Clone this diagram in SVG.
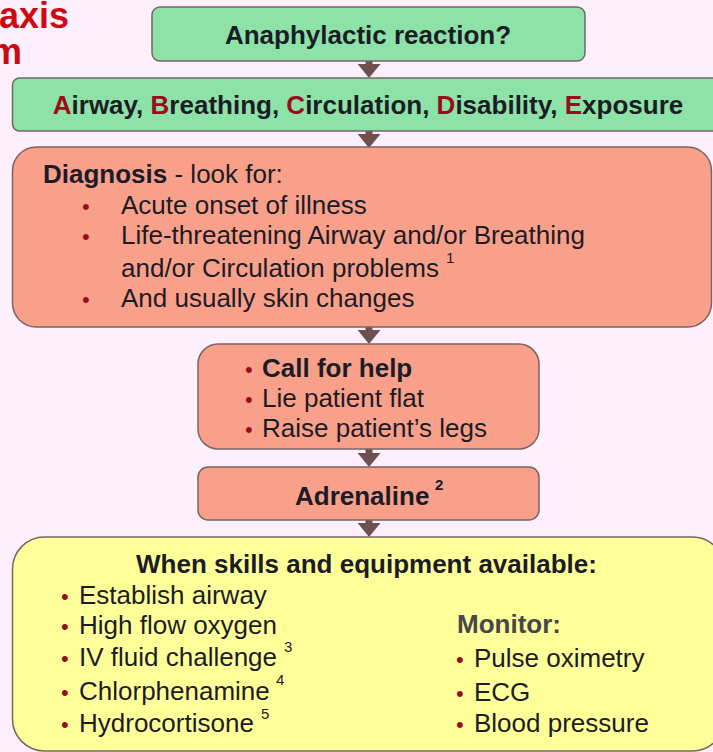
<svg xmlns="http://www.w3.org/2000/svg" width="713" height="752" viewBox="0 0 713 752">
  <style>
    text { font-family: "Liberation Sans", Arial, sans-serif; fill: #1c1c26; }
    .b { font-weight: bold; }
    .t { font-size: 26px; }
    .sup { font-size: 15px; }
    .title { font-size: 36px; font-weight: bold; fill: #cc0a14; }
    .dot { font-size: 22px; fill: #9a0c1c; }
    .red { fill: #9a0c1c; }
    .mon { fill: #46464c; }
    .box { stroke: #7a6464; stroke-width: 1.5; }
    .green { fill: #8de2a7; }
    .salmon { fill: #f9a08a; }
    .yellow { fill: #ffff99; }
    .flow { stroke: #6e5050; stroke-width: 7; fill: none; marker-end: url(#head); }
  </style>
  <defs>
    <marker id="head" markerUnits="userSpaceOnUse" viewBox="0 0 14 23" markerWidth="14" markerHeight="23" refX="0" refY="11.5" orient="auto">
      <path d="M0,0 L14,11.5 L0,23 Z" fill="#6e5050"/>
    </marker>
  </defs>

  <!-- page background -->
  <rect x="0" y="0" width="713" height="752" fill="#fdeffc"/>

  <!-- heading, running off the left edge -->
  <g id="heading">
    <text class="title" x="-1" y="28">axis</text>
    <text class="title" x="-10" y="64">m</text>
  </g>

  <!-- arrows between the steps -->
  <g id="connectors">
    <line class="flow" x1="369" y1="61" x2="369" y2="64"/>
    <line class="flow" x1="369" y1="131" x2="369" y2="134"/>
    <line class="flow" x1="369" y1="327" x2="369" y2="330"/>
    <line class="flow" x1="369" y1="449" x2="369" y2="453"/>
    <line class="flow" x1="369" y1="520" x2="369" y2="523"/>
  </g>

  <g id="reaction">
    <rect class="box green" x="152" y="7" width="433" height="54" rx="8"/>
    <text class="t b" x="368" y="44" text-anchor="middle">Anaphylactic reaction?</text>
  </g>

  <g id="abcde">
    <rect class="box green" x="12.5" y="78" width="712" height="53" rx="7"/>
    <text class="t b" x="368" y="114" text-anchor="middle"><tspan class="red">A</tspan>irway, <tspan class="red">B</tspan>reathing, <tspan class="red">C</tspan>irculation, <tspan class="red">D</tspan>isability, <tspan class="red">E</tspan>xposure</text>
  </g>

  <g id="diagnosis">
    <rect class="box salmon" x="12.5" y="147" width="699" height="180" rx="24"/>
    <text class="t" x="43" y="183"><tspan class="b">Diagnosis</tspan> - look for:</text>
    <text class="dot" x="82" y="214">•</text>
    <text class="t" x="121" y="214">Acute onset of illness</text>
    <text class="dot" x="82" y="244">•</text>
    <text class="t" x="121" y="244">Life-threatening Airway and/or Breathing</text>
    <text class="t" x="121" y="277">and/or Circulation problems</text>
    <text class="sup" x="446" y="263">1</text>
    <text class="dot" x="82" y="307">•</text>
    <text class="t" x="121" y="307">And usually skin changes</text>
  </g>

  <g id="first-actions">
    <rect class="box salmon" x="198" y="344" width="341" height="105" rx="20"/>
    <text class="dot" x="245" y="377">•</text>
    <text class="t b" x="262" y="377">Call for help</text>
    <text class="dot" x="245" y="407">•</text>
    <text class="t" x="262" y="407">Lie patient flat</text>
    <text class="dot" x="245" y="437">•</text>
    <text class="t" x="262" y="437">Raise patient’s legs</text>
  </g>

  <g id="adrenaline">
    <rect class="box salmon" x="198" y="467" width="341" height="53" rx="10"/>
    <text class="t b" x="295" y="505">Adrenaline</text>
    <text class="sup b" x="435" y="490">2</text>
  </g>

  <g id="further-care">
    <rect class="box yellow" x="12.5" y="537" width="712" height="214" rx="32"/>
    <text class="t b" x="136" y="573">When skills and equipment available:</text>
    <text class="dot" x="61" y="604">•</text>
    <text class="t" x="79" y="604">Establish airway</text>
    <text class="dot" x="61" y="634">•</text>
    <text class="t" x="79" y="634">High flow oxygen</text>
    <text class="dot" x="61" y="666">•</text>
    <text class="t" x="79" y="666">IV fluid challenge</text>
    <text class="sup" x="284" y="652">3</text>
    <text class="dot" x="61" y="700">•</text>
    <text class="t" x="79" y="700">Chlorphenamine</text>
    <text class="sup" x="276" y="685">4</text>
    <text class="dot" x="61" y="732">•</text>
    <text class="t" x="79" y="732">Hydrocortisone</text>
    <text class="sup" x="261" y="719">5</text>

    <text class="t b mon" x="457" y="633">Monitor:</text>
    <text class="dot" x="456" y="667">•</text>
    <text class="t" x="474" y="667">Pulse oximetry</text>
    <text class="dot" x="456" y="701">•</text>
    <text class="t" x="474" y="701">ECG</text>
    <text class="dot" x="456" y="732">•</text>
    <text class="t" x="474" y="732">Blood pressure</text>
  </g>
</svg>
